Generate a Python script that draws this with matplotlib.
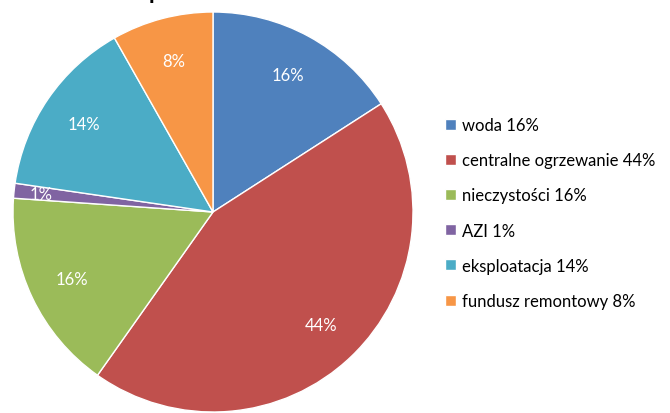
import matplotlib
matplotlib.use('Agg')
import matplotlib.pyplot as plt

# dane
categories = ['woda', 'centralne ogrzewanie', 'nieczystości', 'AZI', 'eksploatacja', 'fundusz remontowy']
values = [15.9, 43.9, 16.3, 1.2, 14.5, 8.2]
pct_labels = ['16%', '44%', '16%', '1%', '14%', '8%']
colors = ['#4F81BD', '#C0504D', '#9BBB59', '#8064A2', '#4BACC6', '#F79646']

plt.rcParams['font.family'] = ['Lato', 'DejaVu Sans']

fig = plt.figure(figsize=(6.7, 4.14), dpi=100)
ax = fig.add_axes([13 / 670, 1 / 414, 400 / 670, 400 / 414])

wedges, texts = ax.pie(values, colors=colors, startangle=90, counterclock=False,
                       labels=pct_labels, labeldistance=0.78,
                       wedgeprops=dict(edgecolor='white', linewidth=1))
for t in texts:
    t.set_color('white')
    t.set_fontsize(12)
    t.set_ha('center')
    t.set_va('center')
# 1% dalej od środka
x, y = texts[3].get_position()
texts[3].set_position((x * 1.11, y * 1.11))
ax.set_xlim(-1, 1)
ax.set_ylim(-1, 1)
ax.set_aspect('equal')

leg_labels = [f'{c} {p}' for c, p in zip(categories, pct_labels)]
fig.legend(wedges, leg_labels, loc='center left', bbox_to_anchor=(0.642, 0.483),
           frameon=False, fontsize=12, handlelength=0.65, handleheight=0.65,
           handletextpad=0.35, labelspacing=1.15)

# tytuł (obcięty u góry)
fig.text(0.045, 1.002, 'Struktura opłat', fontsize=17, fontweight='bold', va='baseline')

fig.savefig('out.png', dpi=100)
plt.close()
